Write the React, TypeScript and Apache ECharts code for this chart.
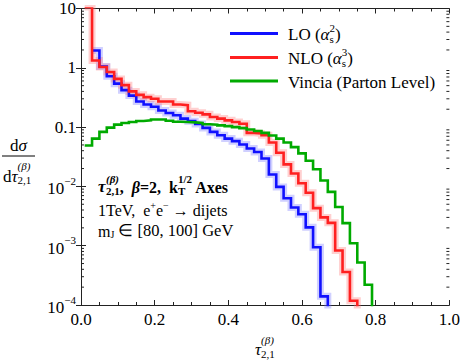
import React, { useEffect, useRef } from 'react';
import * as echarts from 'echarts';

// Histogram bins (width 0.02), first left edges per series
const binWidth = 0.02;
const loStart = 0.03;
const nloStart = 0.01;
const vinciaStart = 0.01;

// LO (alpha_s^2): bins centred at 0.04 ... 0.66
const loValues = [
  1.96, 1.05, 0.72, 0.54, 0.42, 0.34, 0.27, 0.24, 0.22, 0.19,
  0.173, 0.158, 0.139, 0.126, 0.113, 0.097, 0.083, 0.073, 0.064, 0.058,
  0.051, 0.0435, 0.038, 0.0295, 0.0159, 0.0098, 0.0063, 0.0044, 0.0034, 0.00204,
  0.00094, 0.00014,
];

// NLO (alpha_s^3): bins centred at 0.02 ... 0.74
const nloValues = [
  10.6, 1.33, 1.03, 0.85, 0.65, 0.51, 0.40, 0.35, 0.32, 0.30,
  0.27, 0.27, 0.24, 0.235, 0.185, 0.175, 0.164, 0.148, 0.139, 0.130,
  0.122, 0.114, 0.080, 0.078, 0.073, 0.055, 0.037, 0.0235, 0.0165, 0.0113,
  0.0078, 0.0043, 0.0030, 0.00243, 0.00083, 0.00036, 0.000118,
];

// Vincia (Parton Level): bins centred at 0.02 ... 0.78
const vinciaValues = [
  0.049, 0.064, 0.083, 0.098, 0.110, 0.117, 0.122, 0.127, 0.130, 0.134,
  0.134, 0.128, 0.123, 0.122, 0.120, 0.117, 0.112, 0.110, 0.107, 0.104,
  0.100, 0.096, 0.091, 0.086, 0.080, 0.072, 0.064, 0.055, 0.046, 0.036,
  0.027, 0.0195, 0.0126, 0.0081, 0.0045, 0.0024, 0.0011, 0.00052, 0.00022,
];

const xMin = 0;
const xMax = 1;
const xInterval = 0.2;
const yMin = 1e-4;
const yMax = 10;
const yPlainLabels: Record<string, string> = { '1': '10', '0': '1', '-1': '0.1' };

const FAMILY = 'Liberation Serif';

let measureCtx: CanvasRenderingContext2D | null = null;
function measure(text: string, size: number, italic?: boolean, bold?: boolean) {
  if (!measureCtx) measureCtx = document.createElement('canvas').getContext('2d');
  if (!measureCtx) return text.length * size * 0.5;
  measureCtx.font = `${italic ? 'italic ' : ''}${bold ? 'bold ' : ''}${size}px "${FAMILY}"`;
  return measureCtx.measureText(text).width;
}

function histPoints(start: number, vals: number[]) {
  const pts: number[][] = vals.map((v, i) => [start + i * binWidth, v]);
  const end = start + vals.length * binWidth;
  pts.push([end, vals[vals.length - 1]]);
  pts.push([end, 1e-9]);
  return pts;
}

function txt(text: string, x: number, baseline: number, size: number, italic?: boolean, bold?: boolean) {
  return {
    type: 'text',
    x,
    y: baseline - size * 0.34,
    silent: true,
    z: 100,
    style: {
      text,
      fontSize: size,
      fontFamily: FAMILY,
      fontStyle: italic ? 'italic' : 'normal',
      fontWeight: bold ? 'bold' : 'normal',
      fill: '#000',
      textAlign: 'left',
      align: 'left',
      textVerticalAlign: 'middle',
      verticalAlign: 'middle',
    },
  };
}

// Lays out a sequence of text pieces (with stacked super/subscripts) along a baseline
function flow(pieces: any[], x0: number, baseline: number) {
  const out: any[] = [];
  let x = x0;
  for (const p of pieces) {
    if (p.gap !== undefined) {
      x += p.gap;
    } else if (p.sup !== undefined || p.sub !== undefined) {
      let w = 0;
      if (p.sup) {
        out.push(txt(p.sup, x, baseline + p.supDy, p.s, p.supI, p.b));
        w = Math.max(w, measure(p.sup, p.s, p.supI, p.b));
      }
      if (p.sub) {
        out.push(txt(p.sub, x, baseline + p.subDy, p.s, p.subI, p.b));
        w = Math.max(w, measure(p.sub, p.s, p.subI, p.b));
      }
      x += w;
    } else {
      out.push(txt(p.t, x, baseline + (p.dy || 0), p.s, p.i, p.b));
      x += measure(p.t, p.s, p.i, p.b);
    }
  }
  return out;
}

function legendLine(y: number, color: string) {
  return {
    type: 'line',
    silent: true,
    z: 100,
    shape: { x1: 230, y1: y, x2: 278, y2: y },
    style: { stroke: color, lineWidth: 3 },
  };
}

const LO_COLOR = '#1010ff';
const NLO_COLOR = '#ff2020';
const VINCIA_COLOR = '#00aa00';

export default function App() {
  const ref = useRef<HTMLDivElement>(null);

  useEffect(() => {
    if (!ref.current) return;
    const chart = echarts.init(ref.current, undefined, { renderer: 'svg' });

    const minorLogTicks: number[][] = [];
    for (let e = -4; e < 1; e++) {
      for (let m = 2; m <= 9; m++) minorLogTicks.push([0.5, m * Math.pow(10, e)]);
    }

    const xAxisBase = {
      type: 'value',
      min: xMin,
      max: xMax,
      interval: xInterval,
      splitLine: { show: false },
      axisLine: { show: true, lineStyle: { color: '#222', width: 1 } },
      axisTick: { show: true, inside: true, length: 5, lineStyle: { color: '#222', width: 1 } },
      minorTick: { show: true, splitNumber: 4, length: 3, lineStyle: { color: '#222', width: 1 } },
      minorSplitLine: { show: false },
    };
    const yAxisBase = {
      type: 'log',
      logBase: 10,
      min: yMin,
      max: yMax,
      splitLine: { show: false },
      axisLine: { show: true, lineStyle: { color: '#222', width: 1 } },
      axisTick: { show: true, inside: true, length: 5, lineStyle: { color: '#222', width: 1 } },
    };

    const sup = (s: string, sub: string, size: number, extra: any = {}) => ({
      sup: s, sub, s: size, supDy: -8, subDy: 3, ...extra,
    });

    const graphics: any[] = [
      legendLine(33.5, LO_COLOR),
      legendLine(57.5, NLO_COLOR),
      legendLine(81, VINCIA_COLOR),
      ...flow([
        { t: 'LO (', s: 17 },
        { t: 'α', s: 17, i: true },
        sup('2', 's', 11, { supDy: -8, subDy: 3 }),
        { t: ')', s: 17 },
      ], 288, 40),
      ...flow([
        { t: 'NLO (', s: 17 },
        { t: 'α', s: 17, i: true },
        sup('3', 's', 11, { supDy: -8, subDy: 3 }),
        { t: ')', s: 17 },
      ], 288, 64),
      ...flow([{ t: 'Vincia (Parton Level)', s: 17 }], 288, 88),
      // annotation
      ...flow([
        { t: 'τ', s: 17, i: true, b: true },
        { gap: 0.5 },
        sup('(β)', '2,1', 11, { supI: true, b: true, supDy: -9.5, subDy: 2.5 }),
        { t: ',  ', s: 16, b: true },
        { t: 'β', s: 16, i: true, b: true },
        { t: '=2,  ', s: 16, b: true },
        { t: 'k', s: 16, b: true },
        sup('1/2', 'T', 11, { b: true, supDy: -9.5, subDy: 2.5 }),
        { t: ' Axes', s: 16, b: true },
      ], 98, 192.5),
      ...flow([
        { t: '1TeV,  e', s: 16 },
        { t: '+', s: 10, dy: -7 },
        { t: 'e', s: 16 },
        { t: '\u2212', s: 10, dy: -7 },
        { t: ' \u2192 dijets', s: 16 },
      ], 98, 216),
      ...flow([
        { t: 'm', s: 16 },
        { t: 'J', s: 10, dy: 1 },
        { t: ' \u2208 [80, 100] GeV', s: 16.5 },
      ], 98, 236.5),
      // y-axis title: fraction
      ...flow([
        { t: 'd', s: 17 },
        { t: 'σ', s: 17, i: true },
      ], 10, 151),
      { type: 'line', silent: true, shape: { x1: 2, y1: 156, x2: 35, y2: 156 }, style: { stroke: '#000', lineWidth: 1 } },
      ...flow([
        { t: 'd', s: 17 },
        { t: 'τ', s: 17, i: true },
        sup('(β)', '2,1', 11, { supI: true, supDy: -12, subDy: 2 }),
      ], 3, 182),
      // x-axis title
      ...flow([
        { t: 'τ', s: 17, i: true },
        sup('(β)', '2,1', 11, { supI: true, supDy: -11, subDy: 3 }),
      ], 255, 355),
    ];

    const option: any = {
      animation: false,
      grid: { left: 81, right: 11, top: 8, bottom: 57, containLabel: false },
      xAxis: [
        {
          ...xAxisBase,
          position: 'bottom',
          axisLabel: {
            show: true,
            margin: 6,
            fontFamily: FAMILY,
            fontSize: 17,
            color: '#000',
            formatter: (v: number) => v.toFixed(1),
          },
        },
        { ...xAxisBase, position: 'top', axisLabel: { show: false } },
      ],
      yAxis: [
        {
          ...yAxisBase,
          position: 'left',
          axisLabel: {
            show: true,
            margin: 5,
            color: '#000',
            fontFamily: FAMILY,
            fontSize: 17,
            formatter: (v: number) => {
              const e = Math.round(Math.log10(v));
              const plain = yPlainLabels[String(e)];
              if (plain) return `{p|${plain}}`;
              return `{b|10}{s|\u2212${-e}}`;
            },
            rich: {
              p: { fontFamily: FAMILY, fontSize: 17, color: '#000', lineHeight: 20, verticalAlign: 'middle' },
              b: { fontFamily: FAMILY, fontSize: 17, color: '#000', lineHeight: 22, verticalAlign: 'bottom' },
              s: { fontFamily: FAMILY, fontSize: 11, color: '#000', lineHeight: 22, verticalAlign: 'top' },
            },
          },
        },
        { ...yAxisBase, position: 'right', axisLabel: { show: false } },
      ],
      series: [
        {
          name: 'LO band',
          type: 'line',
          step: 'end',
          data: histPoints(loStart, loValues),
          showSymbol: false,
          silent: true,
          lineStyle: { width: 7, color: 'rgba(120,120,255,0.35)', join: 'miter' },
          z: 1,
        },
        {
          name: 'NLO band',
          type: 'line',
          step: 'end',
          data: histPoints(nloStart, nloValues),
          showSymbol: false,
          silent: true,
          lineStyle: { width: 7, color: 'rgba(255,120,120,0.35)', join: 'miter' },
          z: 1,
        },
        {
          name: 'LO (αs²)',
          type: 'line',
          step: 'end',
          data: histPoints(loStart, loValues),
          showSymbol: false,
          lineStyle: { width: 2.6, color: LO_COLOR, join: 'miter' },
          z: 3,
        },
        {
          name: 'NLO (αs³)',
          type: 'line',
          step: 'end',
          data: histPoints(nloStart, nloValues),
          showSymbol: false,
          lineStyle: { width: 2.6, color: NLO_COLOR, join: 'miter' },
          z: 4,
        },
        {
          name: 'Vincia (Parton Level)',
          type: 'line',
          step: 'end',
          data: histPoints(vinciaStart, vinciaValues),
          showSymbol: false,
          lineStyle: { width: 2.6, color: VINCIA_COLOR, join: 'miter' },
          z: 5,
        },
        {
          name: 'log minor ticks',
          type: 'custom',
          silent: true,
          data: minorLogTicks,
          z: 10,
          renderItem: (params: any, api: any) => {
            const cs = params.coordSys;
            const y = api.coord([0.5, api.value(1)])[1];
            return {
              type: 'group',
              children: [
                { type: 'line', shape: { x1: cs.x, y1: y, x2: cs.x + 3, y2: y }, style: { stroke: '#222', lineWidth: 1 } },
                { type: 'line', shape: { x1: cs.x + cs.width - 3, y1: y, x2: cs.x + cs.width, y2: y }, style: { stroke: '#222', lineWidth: 1 } },
              ],
            };
          },
        },
      ],
      graphic: graphics,
    };

    chart.setOption(option);
    return () => chart.dispose();
  }, []);

  return (
    <div
      ref={ref}
      style={{ position: 'fixed', left: 0, top: 0, width: 463, height: 362, background: '#fff' }}
    />
  );
}
